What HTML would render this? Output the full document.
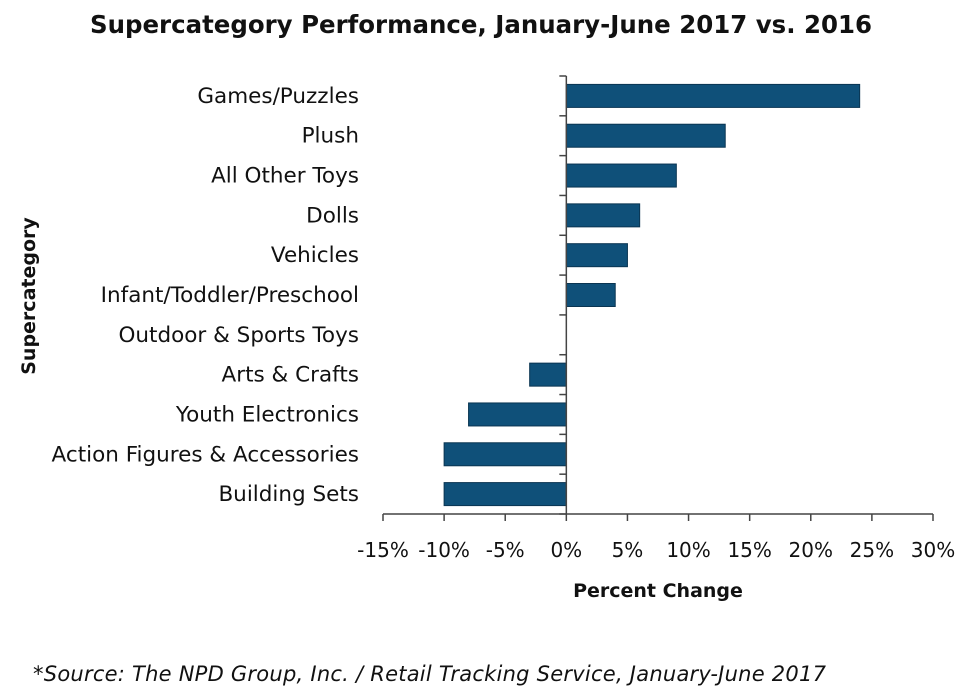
<!DOCTYPE html>
<html><head><meta charset="utf-8"><style>
body{margin:0;background:#fff;}
svg{display:block;font-family:"DejaVu Sans","Liberation Sans",sans-serif;}
</style></head><body>
<svg width="974" height="700" viewBox="0 0 974 700">
<text x="90" y="33" font-size="25" font-weight="bold" fill="#111" textLength="782" lengthAdjust="spacingAndGlyphs">Supercategory Performance, January-June 2017 vs. 2016</text>
<text transform="translate(35,296) rotate(-90)" text-anchor="middle" font-size="19" font-weight="bold" fill="#111">Supercategory</text>
<text x="658" y="597" text-anchor="middle" font-size="19" font-weight="bold" fill="#111">Percent Change</text>
<text x="33" y="681" font-size="21" font-style="italic" fill="#111" textLength="793">*Source: The NPD Group, Inc. / Retail Tracking Service, January-June 2017</text>
<g id="plot"></g>
</svg>
<script>
const categories=["Games/Puzzles","Plush","All Other Toys","Dolls","Vehicles","Infant/Toddler/Preschool","Outdoor & Sports Toys","Arts & Crafts","Youth Electronics","Action Figures & Accessories","Building Sets"];
const values=[24,13,9,6,5,4,0,-3,-8,-10,-10];
const ticks=[-15,-10,-5,0,5,10,15,20,25,30];
const tickLabels=["-15%","-10%","-5%","0%","5%","10%","15%","20%","25%","30%"];
(function(){
const NS="http://www.w3.org/2000/svg";
const g=document.getElementById('plot');
const xMin=-15,xMax=30,pl=383,pr=933,pt=76,pb=514;
const x=v=>pl+(v-xMin)/(xMax-xMin)*(pr-pl);
const band=(pb-pt)/categories.length;
const y=i=>pt+band*i;
function mk(t,a){const e=document.createElementNS(NS,t);for(const k in a)e.setAttribute(k,a[k]);g.appendChild(e);return e;}
categories.forEach((c,i)=>{
  const v=values[i];
  const r=mk('rect',{x:Math.min(x(0),x(v)),y:y(i)+band/2-11.5,width:Math.abs(x(v)-x(0)),height:23,fill:'#0f5079',stroke:'#0a3552','stroke-width':1});
  
  
  const t=mk('text',{x:359,y:y(i)+band/2+7,'text-anchor':'end','font-size':21.5,fill:'#111'});
  t.textContent=c;
  
  
});
for(let i=0;i<=categories.length;i++){
  const l=mk('line',{x1:x(0)-7,x2:x(0),y1:y(i),y2:y(i),stroke:'#444','stroke-width':1.5});
  
  
}
const ya=mk('line',{x1:x(0),x2:x(0),y1:pt,y2:pb,stroke:'#444','stroke-width':1.5});


const xa=mk('line',{x1:pl,x2:pr,y1:pb,y2:pb,stroke:'#444','stroke-width':1.5});


ticks.forEach((tv,i)=>{
  const l=mk('line',{x1:x(tv),x2:x(tv),y1:pb,y2:pb+7,stroke:'#444','stroke-width':1.5});
  
  
  const t=mk('text',{x:x(tv),y:557,'text-anchor':'middle','font-size':20,fill:'#111'});
  t.textContent=tickLabels[i];
  
  
});
})();
</script>
</body></html>
